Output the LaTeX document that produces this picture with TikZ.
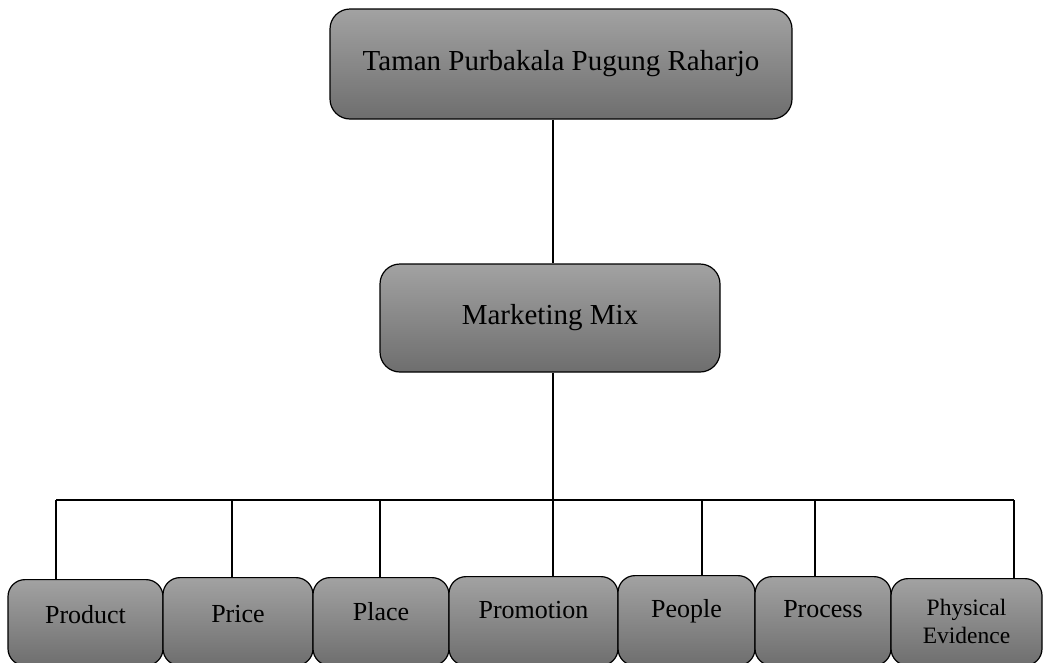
\documentclass[tikz,border=0pt]{standalone}
\usepackage{fontspec}
\setmainfont{Liberation Serif}
\usetikzlibrary{calc}
\definecolor{gtop}{RGB}{162,162,162}
\definecolor{gbot}{RGB}{110,110,110}
\tikzset{
  box/.style={draw=black, line width=1.2, rounded corners=20, top color=gtop, bottom color=gbot, inner sep=0pt},
  leaf/.style={draw=black, line width=1.2, rounded corners=17, top color=gtop, bottom color=gbot, inner sep=0pt, anchor=north},
  lbl/.style={inner sep=0pt, anchor=base, font=\fontsize{26}{30}\selectfont},
  conn/.style={draw=black, line width=1.1}
}
\begin{document}
\begin{tikzpicture}[x=1pt,y=-1pt]
\useasboundingbox (0,0) rectangle (1044,662);
\node[box, minimum width=462, minimum height=110, font=\fontsize{29}{34}\selectfont] (top) at (561,64) {Taman Purbakala Pugung Raharjo};
\node[box, minimum width=340, minimum height=108, font=\fontsize{29}{34}\selectfont] (mm) at (550,318) {Marketing Mix};
\begin{scope}
\clip (0,0) rectangle (1044,662);
\node[leaf, minimum width=155, minimum height=86] (product) at (85.5,579) {};
\node[leaf, minimum width=150, minimum height=88] (price) at (238,577) {};
\node[leaf, minimum width=136, minimum height=88] (place) at (381,577) {};
\node[leaf, minimum width=169, minimum height=89] (promo) at (533.5,576) {};
\node[leaf, minimum width=137, minimum height=90] (people) at (686.5,575) {};
\node[leaf, minimum width=136, minimum height=89] (process) at (823,576) {};
\node[leaf, minimum width=151, minimum height=87] (phys) at (966.5,578) {};
\end{scope}
\node[lbl] (tproduct) at ($(product.north)+(0,44)$) {Product};
\node[lbl] (tprice) at ($(price.north)+(0,45)$) {Price};
\node[lbl] (tplace) at ($(place.north)+(0,43)$) {Place};
\node[lbl] (tpromo) at ($(promo.north)+(0,42)$) {Promotion};
\node[lbl] (tpeople) at ($(people.north)+(0,42)$) {People};
\node[lbl] (tprocess) at ($(process.north)+(0,41)$) {Process};
\node[inner sep=0pt, anchor=base, align=center, font=\fontsize{23.5}{28}\selectfont] (tphys) at ($(phys.north)+(0,65)$) {Physical\\Evidence};
% connectors
\coordinate (h1) at (56,500);
\coordinate (h2) at (232,500);
\coordinate (h3) at (380,500);
\coordinate (h4) at (553,500);
\coordinate (h5) at (702,500);
\coordinate (h6) at (815,500);
\coordinate (h7) at (1014,500);
\draw[conn] (h4 |- top.south) -- (h4 |- mm.north);
\draw[conn] (h4 |- mm.south) -- (h4 |- promo.north);
\draw[conn] (h1) -- (h7);
\draw[conn] (h1) -- (h1 |- product.north);
\draw[conn] (h2) -- (h2 |- price.north);
\draw[conn] (h3) -- (h3 |- place.north);
\draw[conn] (h5) -- (h5 |- people.north);
\draw[conn] (h6) -- (h6 |- process.north);
\draw[conn] (h7) -- (h7 |- phys.north);
\end{tikzpicture}
\end{document}
